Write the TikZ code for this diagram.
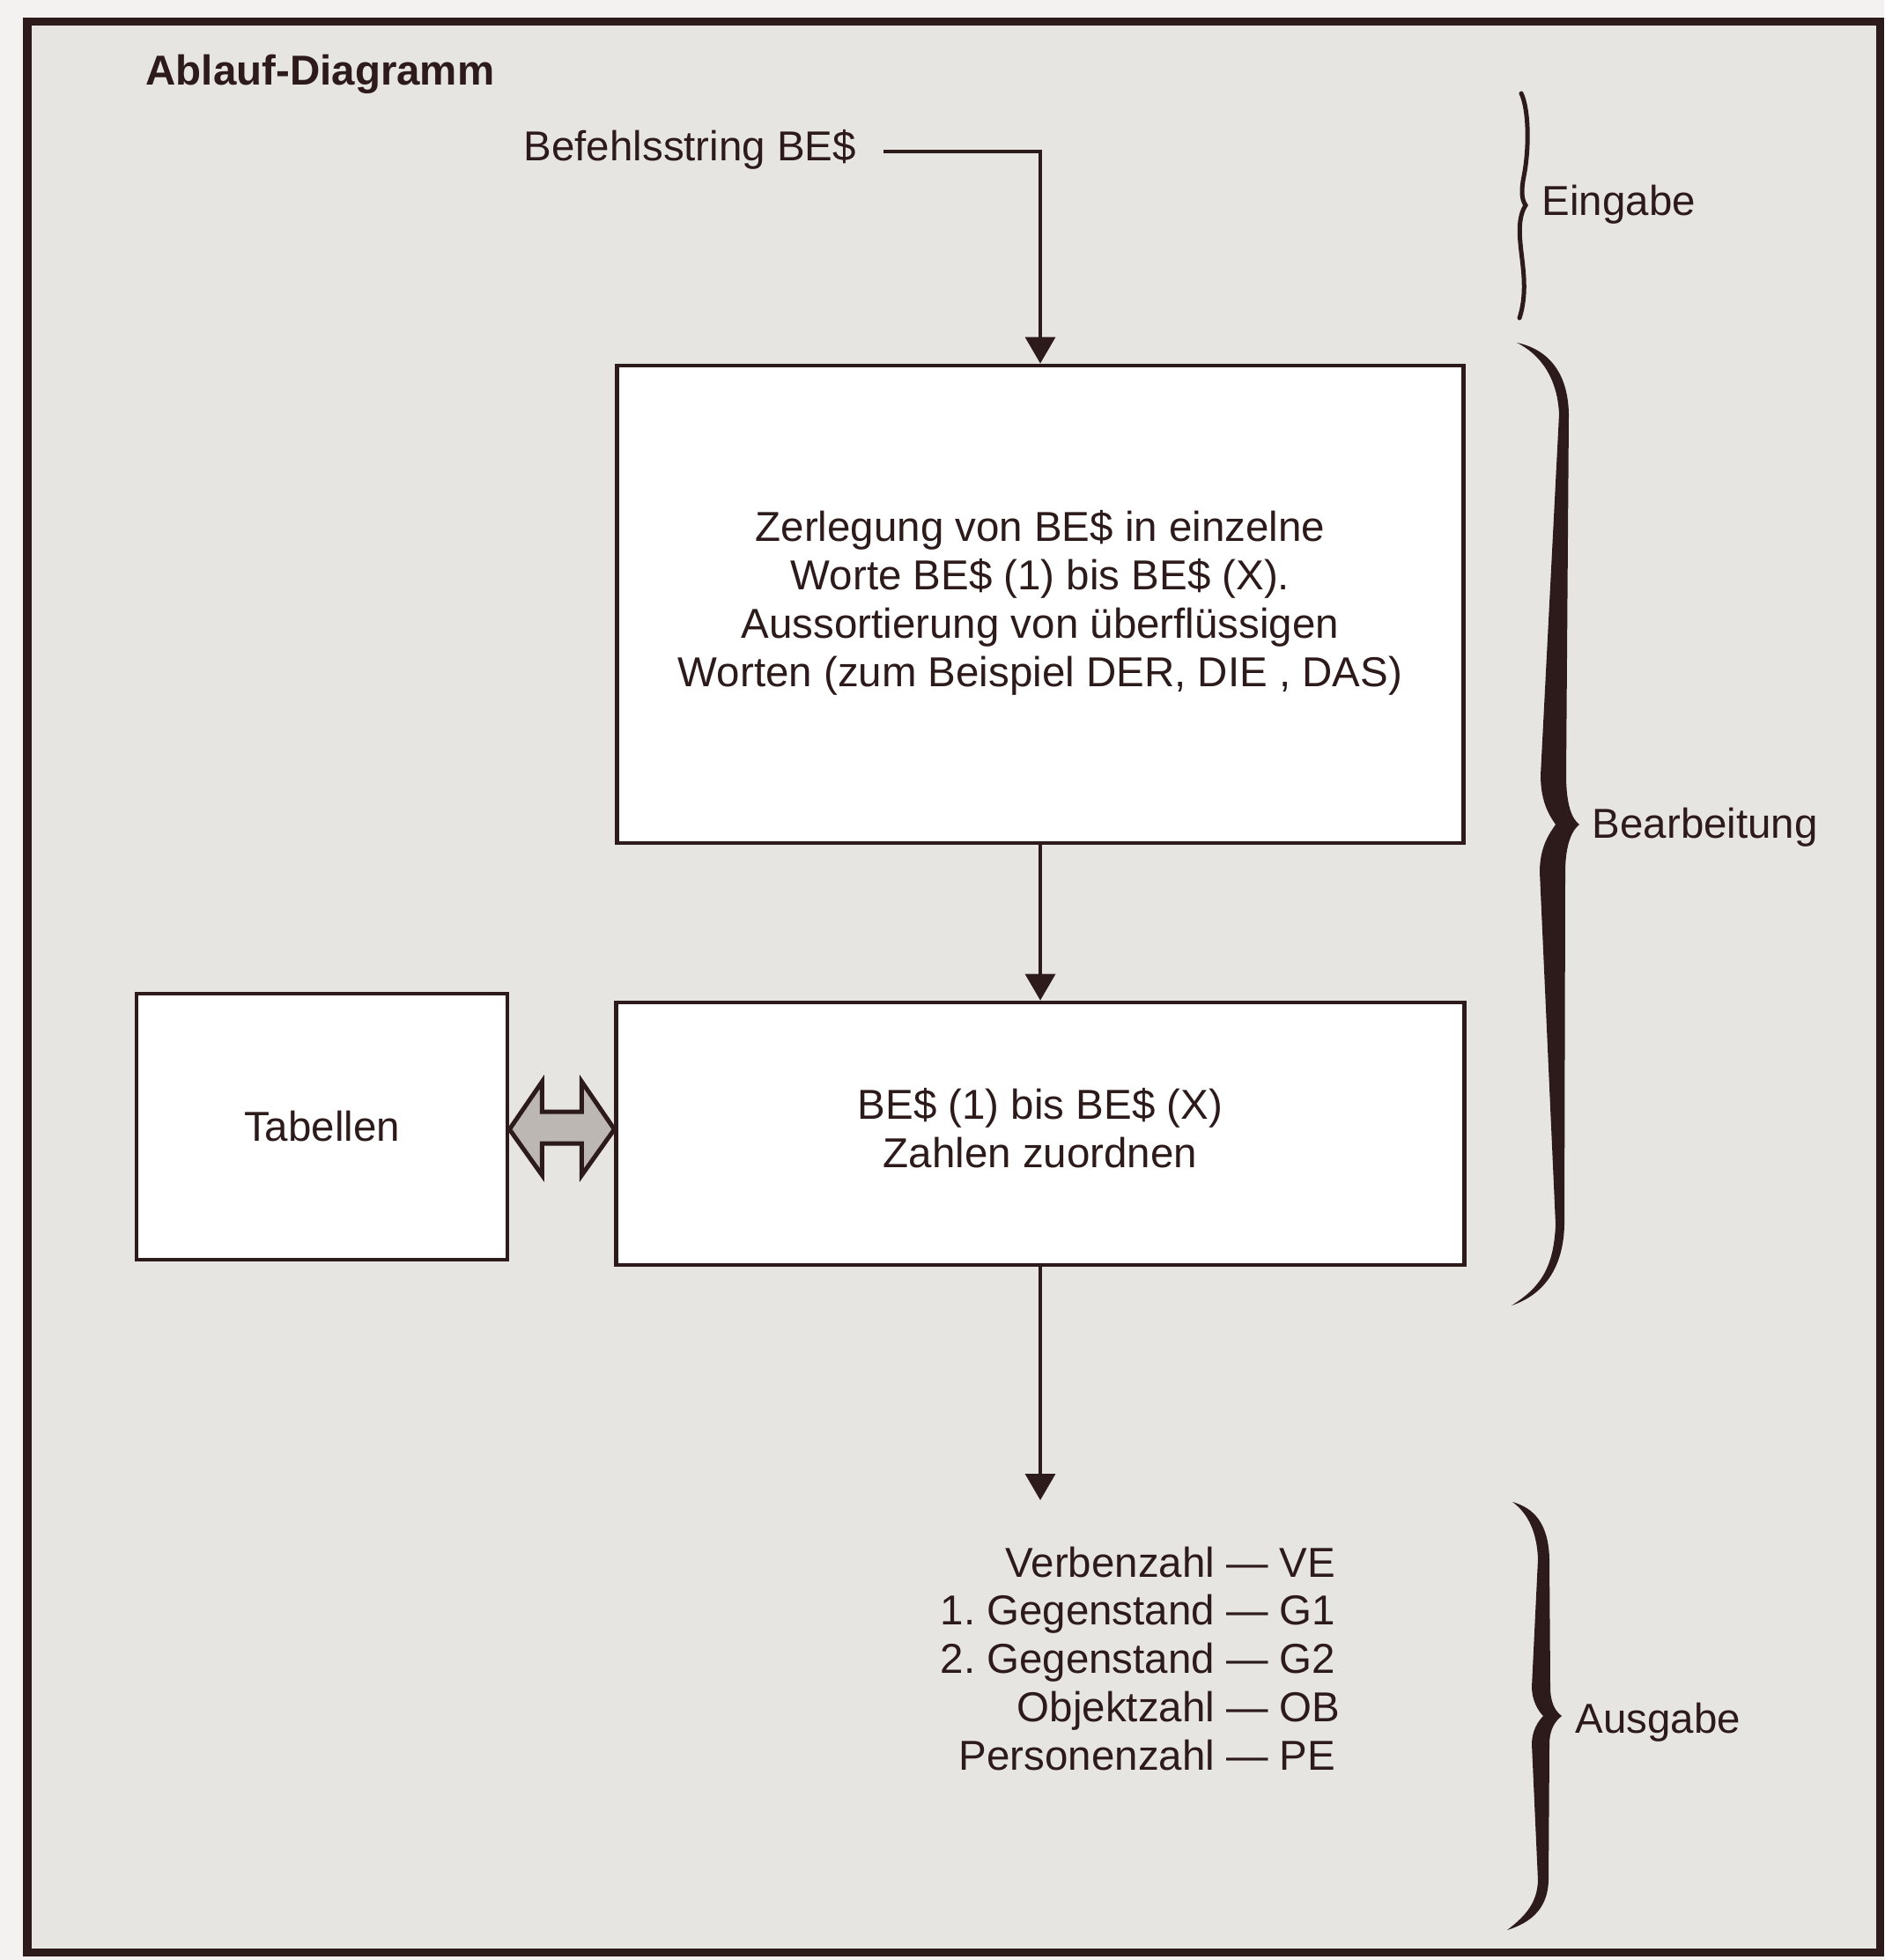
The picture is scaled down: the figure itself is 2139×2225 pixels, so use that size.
\documentclass[tikz,border=0pt]{standalone}
\usepackage{fontspec}
\setmainfont{Liberation Sans}
\usetikzlibrary{arrows.meta,calc}
\definecolor{ink}{RGB}{45,27,27}
\definecolor{paper}{RGB}{231,229,225}
\definecolor{margin}{RGB}{243,242,240}
\definecolor{stipple}{RGB}{188,183,179}
\newcommand{\boxtext}[2]{\raisebox{#1}{\begin{tabular}{@{}c@{}}#2\end{tabular}}}
\begin{document}
\begin{tikzpicture}[x=0.01cm,y=-0.01cm,
  every node/.style={text=ink, font=\fontsize{13.5}{15.6}\selectfont},
  procbox/.style={draw=ink, line width=0.045cm, fill=white, align=center, inner sep=0},
  txt/.style={inner sep=0},
  conn/.style={draw=ink, line width=0.035cm, -{Triangle[width=0.34cm,length=0.30cm]}},
  bracefill/.style={fill=ink, draw=none},
  dblarrow/.style={draw=ink, line width=0.05cm, fill=stipple, line join=miter},
]
\useasboundingbox (0,0) rectangle (2139,2225);
% paper and frame
\fill[margin] (0,0) rectangle (2139,2225);
\draw[ink, line width=0.09cm, fill=paper] (31,25) rectangle (2134,2216);

% title
\node[txt, anchor=base west, font=\fontsize{13.5}{15.6}\selectfont\bfseries] (title) at (165,97) {Ablauf-Diagramm};

% input
\node[txt, anchor=base west] (befehl) at (594,183) {Befehlsstring BE\$};

% process boxes
\node[procbox, minimum width=9.6cm, minimum height=5.42cm] (zerlegung) at (1181,686)
  {\boxtext{0.07cm}{Zerlegung von BE\$ in einzelne\\Worte BE\$ (1) bis BE\$ (X).\\Aussortierung von überflüssigen\\Worten (zum Beispiel DER, DIE , DAS)}};
\node[procbox, minimum width=9.62cm, minimum height=2.98cm] (zuordnen) at (1181,1287)
  {\boxtext{0.08cm}{BE\$ (1) bis BE\$ (X)\\Zahlen zuordnen}};
\node[procbox, minimum width=4.21cm, minimum height=3.02cm] (tabellen) at (365.5,1279) {Tabellen};

% output list
\node[txt, anchor=base west] (liste) at (1067,1790)
  {\begin{tabular}[t]{@{}r@{\ }l@{}}
    Verbenzahl & — VE\\
    1.\ Gegenstand & — G1\\
    2.\ Gegenstand & — G2\\
    Objektzahl & — OB\\
    Personenzahl & — PE
  \end{tabular}};

% connectors
\coordinate (inStart) at (1003,172);
\coordinate (inBend) at (1181,172);
\draw[conn] (inStart) -- (inBend) -- (zerlegung.north);
\draw[conn] (zerlegung.south) -- (zuordnen.north);
\coordinate (outEnd) at (1181,1703);
\draw[conn] (zuordnen.south) -- (outEnd);

% double arrow between Tabellen and the assignment box
\coordinate (dL) at (tabellen.east |- 0,1282);
\coordinate (dR) at (zuordnen.west |- 0,1282);
\draw[dblarrow] (dL) -- ($(dL)+(37,-54)$) -- ($(dL)+(37,-20)$) -- ($(dR)+(-37,-20)$)
  -- ($(dR)+(-37,-54)$) -- (dR) -- ($(dR)+(-37,52)$) -- ($(dR)+(-37,16)$)
  -- ($(dL)+(37,16)$) -- ($(dL)+(37,52)$) -- cycle;

% braces
\draw[ink, line width=0.05cm, line cap=round]
  (1727,106) .. controls (1736,125) and (1736,170) .. (1730,200)
  .. controls (1727,215) and (1727,226) .. (1732,233)
  .. controls (1726,242) and (1724,256) .. (1726,276)
  .. controls (1728,300) and (1735,330) .. (1725,361);

\fill[bracefill]
  (1722,389) .. controls (1755,396) and (1780,420) .. (1781,470)
  -- (1778,880)
  .. controls (1778,915) and (1785,930) .. (1793,936)
  .. controls (1785,942) and (1777,958) .. (1777,990)
  -- (1776,1390)
  .. controls (1775,1440) and (1752,1470) .. (1716,1482)
  .. controls (1748,1462) and (1764,1440) .. (1766,1390)
  -- (1748,990)
  .. controls (1748,960) and (1760,945) .. (1766,936)
  .. controls (1760,927) and (1749,912) .. (1749,880)
  -- (1770,470)
  .. controls (1768,428) and (1748,402) .. (1722,389) -- cycle;

\fill[bracefill]
  (1717,1705) .. controls (1742,1712) and (1758,1730) .. (1759,1770)
  -- (1760,1915)
  .. controls (1760,1932) and (1765,1942) .. (1773,1948)
  .. controls (1765,1954) and (1759,1964) .. (1759,1980)
  -- (1758,2135)
  .. controls (1757,2165) and (1740,2182) .. (1711,2191)
  .. controls (1732,2175) and (1745,2160) .. (1746,2135)
  -- (1739,1980)
  .. controls (1739,1965) and (1746,1954) .. (1752,1948)
  .. controls (1746,1942) and (1739,1930) .. (1739,1915)
  -- (1746,1770)
  .. controls (1745,1740) and (1735,1718) .. (1717,1705) -- cycle;

% brace labels
\node[txt, anchor=base west] (eingabe) at (1750,245) {Eingabe};
\node[txt, anchor=base west] (bearbeitung) at (1807,951) {Bearbeitung};
\node[txt, anchor=base west] (ausgabe) at (1788,1967) {Ausgabe};
\end{tikzpicture}
\end{document}
